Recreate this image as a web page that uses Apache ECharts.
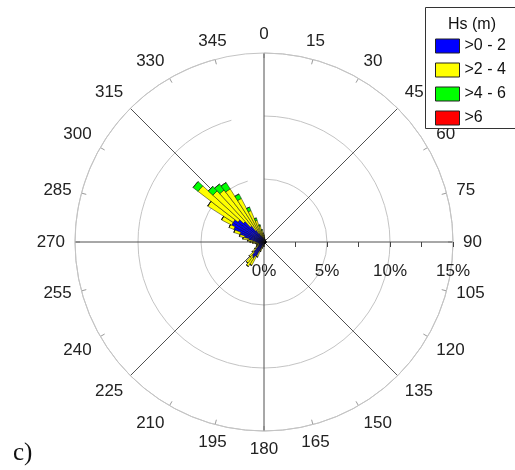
<!DOCTYPE html>
<html><head><meta charset="utf-8">
<script src="https://cdn.jsdelivr.net/npm/echarts@6/dist/echarts.min.js"></script>
<style>html,body{margin:0;padding:0;background:#fff}#c{width:515px;height:470px}</style>
</head><body><div id="c"></div>
<script>
// direction bins (degrees, bin centres, 5 degree bins)
const directions = [0,5,10,15,20,25,30,35,40,45,50,55,60,65,70,75,80,85,90,95,100,105,110,115,120,125,130,135,140,145,150,155,160,165,170,175,180,185,190,195,200,205,210,215,220,225,230,235,240,245,250,255,260,265,270,275,280,285,290,295,300,305,310,315,320,325,330,335,340,345,350,355];
// angle tick labels
const angleLabels = ['0','15','30','45','60','75','90','105','120','135','150','165','180','195','210','225','240','255','270','285','300','315','330','345'];
// radial labels (percent)
const radiusLabels = ['0%','5%','10%','15%'];
const seriesNames = ['>0 - 2','>2 - 4','>4 - 6','>6'];
// frequency (%) per bin for each Hs class
const hs0to2 = [0.3,0.25,0.2,0.2,0.15,0.15,0.15,0.15,0.15,0.15,
 0.15,0.15,0.15,0.15,0.15,0.15,0.15,0.15,0.15,0.15,
 0.15,0.15,0.15,0.15,0.15,0.15,0.15,0.15,0.1,0.1,
 0.1,0.1,0.1,0.1,0.1,0.1,0.15,0.2,0.25,0.3,
 0.5,0.8,1.3,1.5,1.4,1.1,0.8,0.6,0.5,0.45,
 0.45,0.45,0.5,0.6,0.7,0.9,1.2,1.6,2.0,2.6,
 2.9,2.9,2.6,2.2,1.6,1.1,0.8,0.6,0.5,0.4,
 0.35,0.3];
const hs2to4 = [0.25,0.15,0.1,0.05,0.05,0.05,0.05,0,0,0,
 0,0,0,0,0,0,0,0,0,0,
 0,0,0,0,0,0,0,0,0,0,
 0,0,0,0,0,0,0.05,0.1,0.1,0.2,
 0.3,0.5,0.8,0.8,0.7,0.5,0.4,0.3,0.2,0.2,
 0.15,0.15,0.2,0.3,0.4,0.4,0.5,0.4,0.5,0.4,
 0.9,2.4,4.0,3.3,3.6,3.9,3.1,2.1,1.3,0.9,
 0.6,0.4];
const hs4to6 = [0,0,0,0,0,0,0,0,0,0,
 0,0,0,0,0,0,0,0,0,0,
 0,0,0,0,0,0,0,0,0,0,
 0,0,0,0,0,0,0,0,0,0,
 0,0,0,0,0,0,0,0,0,0,
 0,0,0,0,0,0,0,0,0,0,
 0,0,0.5,0.5,0.6,0.6,0.4,0.3,0.2,0.1,
 0.05,0];
const hsOver6 = [0,0,0,0,0,0,0,0,0,0,
 0,0,0,0,0,0,0,0,0,0,
 0,0,0,0,0,0,0,0,0,0,
 0,0,0,0,0,0,0,0,0,0,
 0,0,0,0,0,0,0,0,0,0,
 0,0,0,0,0,0,0,0,0,0,
 0,0,0,0,0,0,0,0,0,0,
 0,0];
const colors = ['#0000ff','#ffff00','#00ff00','#ff0000'];
const values = [hs0to2, hs2to4, hs4to6, hsOver6];

const FONT = "'Liberation Sans', Arial, sans-serif";
const C = [264, 242], R = 189;
const chart = echarts.init(document.getElementById('c'), null, {renderer:'canvas'});
chart.setOption({
  animation: false,
  backgroundColor: '#fff',
  polar: [
    {center: C, radius: R},
    {center: C, radius: R},
    {center: C, radius: R}
  ],
  angleAxis: [
    {polarIndex:0, type:'category', data: directions, startAngle: 92.5, clockwise: true, boundaryGap: true,
     axisLine:{show:false}, axisTick:{show:false}, axisLabel:{show:false}, splitLine:{show:false}},
    {polarIndex:1, type:'category', data: angleLabels, startAngle: 90, clockwise: true, boundaryGap: false,
     axisLine:{show:false},
     axisTick:{show:true, interval:0, inside:true, length:5, lineStyle:{color:'#9a9a9a'}},
     axisLabel:{show:true, interval:0, margin:10, color:'#222', fontSize:17, fontFamily: FONT},
     splitLine:{show:true, interval:0, lineStyle:{color:['#505050','rgba(0,0,0,0)','rgba(0,0,0,0)'], width:1}}},
    {polarIndex:2, type:'value', min:0, max:360, startAngle: 0, clockwise: true,
     axisLine:{show:true, lineStyle:{color:'#c4c4c4', width:1}}, axisTick:{show:false}, axisLabel:{show:false}, splitLine:{show:false}}
  ],
  radiusAxis: [
    {polarIndex:0, type:'value', min:0, max:15, axisLine:{show:false}, axisTick:{show:false}, axisLabel:{show:false}, splitLine:{show:false}},
    {polarIndex:1, type:'value', min:0, max:15, interval:5, axisLine:{show:false}, axisTick:{show:false}, axisLabel:{show:false},
     splitLine:{show:true, lineStyle:{color:'#c4c4c4', width:1}}},
    {polarIndex:2, type:'value', min:0, max:15, interval:2.5, axisLine:{show:false},
     axisTick:{show:true, length:-5, lineStyle:{color:'#444'}},
     axisLabel:{show:true, margin:-21, verticalAlign:'top', color:'#222', fontSize:17, fontFamily: FONT,
       formatter: function(v){ return v % 5 === 0 ? radiusLabels[v/5] : ''; }},
     splitLine:{show:false}}
  ],
  legend: {
    data: seriesNames, orient:'vertical', left:435, top:38, itemWidth:24, itemHeight:14, itemGap:8,
    icon:'rect', padding:0, selectedMode:false,
    textStyle:{fontSize:16, fontFamily: FONT, color:'#111'},
    itemStyle:{borderColor:'#222', borderWidth:1}
  },
  graphic: [
    {type:'rect', z:1, shape:{x:425.5, y:7.5, width:100, height:121}, style:{fill:'#fff', stroke:'#333', lineWidth:1}},
    {type:'text', z:2, x:472, y:25, style:{text:'Hs (m)', fontSize:16, fontFamily: FONT, fill:'#111', align:'center', verticalAlign:'middle'}},
    {type:'text', z:2, x:13, y:453, style:{text:'c)', fontSize:25, fontFamily:"'Liberation Serif', 'Times New Roman', serif", fill:'#111', verticalAlign:'middle'}}
  ],
  series: seriesNames.map(function(n, i){
    return {
      type:'bar', name:n, coordinateSystem:'polar', polarIndex:0, stack:'hs',
      data: values[i], barCategoryGap:'0%',
      itemStyle:{color: colors[i], borderColor:'#111', borderWidth:0.5},
      emphasis:{disabled:true}, silent:true
    };
  })
});
</script></body></html>
